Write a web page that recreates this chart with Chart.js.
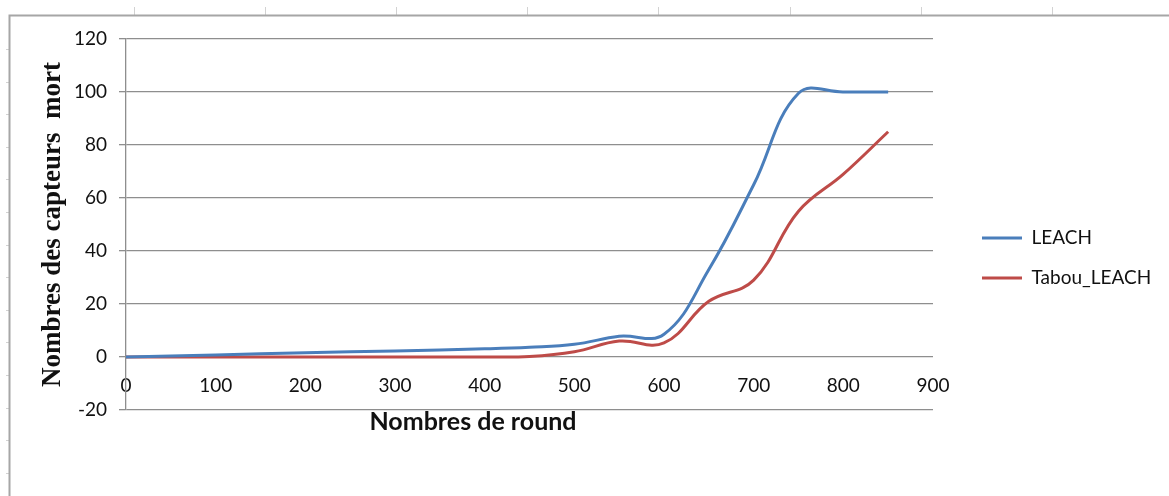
<!DOCTYPE html>
<html>
<head>
<meta charset="utf-8">
<script src="https://cdn.jsdelivr.net/npm/chart.js@4/dist/chart.umd.min.js"></script>
<style>
  html, body { margin: 0; padding: 0; background: #fff; }
  #wrap { width: 1169px; height: 496px; }
  canvas { display: block; }
</style>
</head>
<body>
<div id="wrap"><canvas id="c" width="1169" height="496"></canvas></div>
<script>
// Rounds at which the number of dead sensors was recorded
const rounds = [0, 100, 200, 300, 400, 450, 500, 550, 600, 650, 700, 750, 800, 850];
// Dead sensors per protocol
const leach = [0, 0.8, 1.6, 2.3, 3.1, 3.7, 4.8, 7.8, 8.6, 33, 65, 99.5, 100, 100];
const tabouLeach = [0, 0, 0, 0, 0, 0.2, 2, 6, 5.3, 21, 29, 55, 69, 85];
// Axis tick values
const xTicks = [0, 100, 200, 300, 400, 500, 600, 700, 800, 900];
const yTicks = [-20, 0, 20, 40, 60, 80, 100, 120];

const seriesNames = ['LEACH', 'Tabou_LEACH'];
const xTitle = 'Nombres de round';
const yTitle = 'Nombres des capteurs  mort';

const GRID = '#8e8e8e';
const TICK_FONT = { family: 'Lato', size: 19 };

const toPoints = (ys) => rounds.map((r, i) => ({ x: r, y: ys[i] }));

// Sheet-style frame around the chart object plus the x-axis title
const framePlugin = {
  id: 'frame',
  beforeDraw(chart) {
    const ctx = chart.ctx;
    ctx.save();
    ctx.fillStyle = '#fff';
    ctx.fillRect(0, 0, chart.width, chart.height);
    ctx.strokeStyle = '#d2d2d2';
    ctx.lineWidth = 1;
    ctx.beginPath();
    for (let x = 134; x < chart.width; x += 131.1) {
      ctx.moveTo(Math.round(x) + 0.5, 7);
      ctx.lineTo(Math.round(x) + 0.5, 15);
    }
    for (let y = 49; y < chart.height; y += 32.6) {
      ctx.moveTo(6, Math.round(y) + 0.5);
      ctx.lineTo(9, Math.round(y) + 0.5);
    }
    ctx.stroke();
    ctx.strokeStyle = '#a6a6a6';
    ctx.lineWidth = 2;
    ctx.beginPath();
    ctx.moveTo(9.5, chart.height);
    ctx.lineTo(9.5, 15.5);
    ctx.lineTo(chart.width, 15.5);
    ctx.stroke();
    ctx.restore();
  },
  afterDraw(chart) {
    const ctx = chart.ctx;
    ctx.save();
    ctx.font = 'bold 25px Lato';
    ctx.fillStyle = '#111';
    ctx.textAlign = 'center';
    ctx.textBaseline = 'middle';
    ctx.fillText(xTitle, 473, 422);
    ctx.restore();
  }
};

// Places the legend column to the right of the plot
const legendPlacement = {
  id: 'legendPlacement',
  afterLayout(chart) {
    const lg = chart.legend;
    if (!lg || !lg.columnSizes || !lg.columnSizes.length) return;
    const p = lg.options.labels.padding;
    const dx = 982 - p - lg.left;
    lg.left += dx; lg.right += dx;
    const colH = lg.columnSizes[0].height;
    const y0 = (lg.top + p + lg.bottom - colH) / 2;
    const dy = 228.5 - y0;
    lg.top += dy; lg.bottom += dy;
  }
};

new Chart(document.getElementById('c'), {
  type: 'line',
  data: {
    datasets: [
      {
        label: seriesNames[0],
        data: toPoints(leach),
        borderColor: '#4A7EBB',
        backgroundColor: '#4A7EBB',
        borderWidth: 3,
        pointRadius: 0,
        tension: 0.4,
        fill: false
      },
      {
        label: seriesNames[1],
        data: toPoints(tabouLeach),
        borderColor: '#BE4B48',
        backgroundColor: '#BE4B48',
        borderWidth: 3,
        pointRadius: 0,
        tension: 0.4,
        fill: false
      }
    ]
  },
  options: {
    responsive: false,
    animation: false,
    devicePixelRatio: 1,
    layout: { padding: { left: 0, top: 39, right: 236, bottom: 86 } },
    plugins: {
      legend: {
        position: 'chartArea',
        labels: {
          usePointStyle: true,
          pointStyle: 'line',
          pointStyleWidth: 40,
          padding: 21,
          color: '#111',
          font: { family: 'Lato', size: 19 }
        }
      },
      tooltip: { enabled: false }
    },
    scales: {
      x: {
        type: 'linear',
        position: { y: 0 },
        min: 0,
        max: 900,
        afterBuildTicks: (s) => { s.ticks = xTicks.map(v => ({ value: v })); },
        afterFit: (s) => { s.height = 0; },
        grid: { display: false, drawTicks: false },
        border: { display: false },
        ticks: { padding: 17, color: '#111', font: TICK_FONT, maxRotation: 0, autoSkip: false }
      },
      y: {
        type: 'linear',
        position: 'left',
        min: -20,
        max: 120,
        afterBuildTicks: (s) => { s.ticks = yTicks.map(v => ({ value: v })); },
        afterFit: (s) => { s.width = 126; },
        grid: { color: GRID, lineWidth: 1.3, tickLength: 7, tickColor: GRID },
        border: { display: true, color: GRID, width: 1.3 },
        ticks: { padding: 12, color: '#111', font: TICK_FONT },
        title: {
          display: true,
          text: yTitle,
          color: '#111',
          font: { family: 'Liberation Serif', size: 27, weight: 'bold' },
          padding: { top: 37, bottom: 0 }
        }
      }
    }
  },
  plugins: [framePlugin, legendPlacement]
});
</script>
</body>
</html>
